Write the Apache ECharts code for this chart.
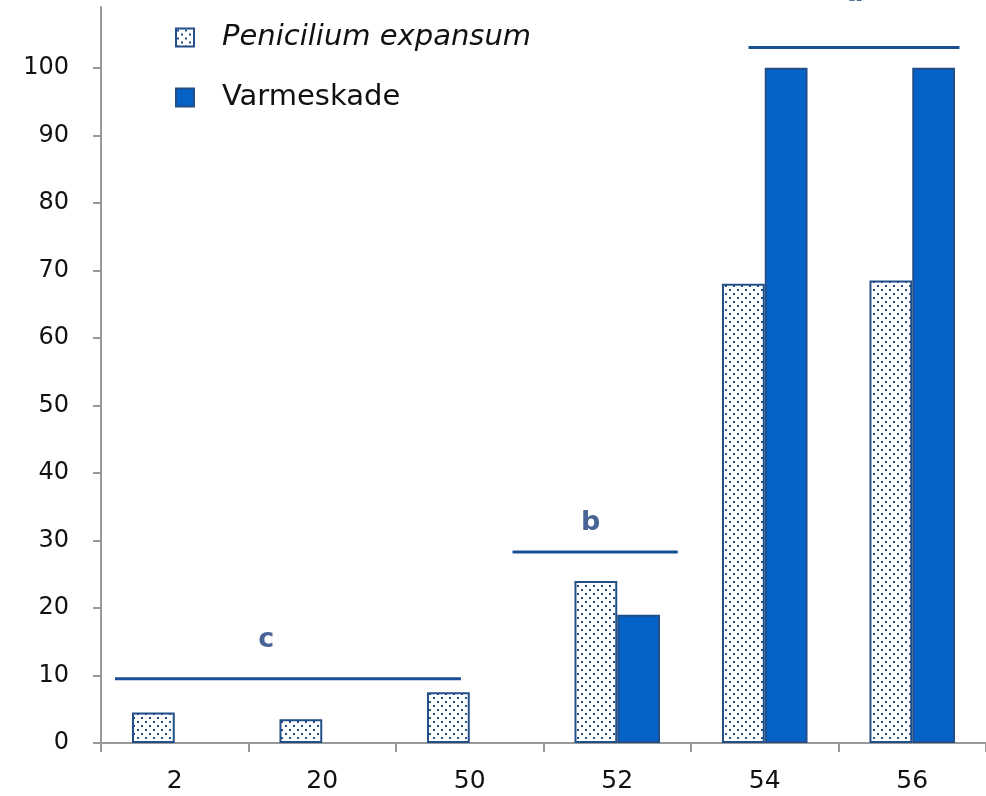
<!DOCTYPE html>
<html><head><meta charset="utf-8">
<script src="https://cdn.jsdelivr.net/npm/echarts@6/dist/echarts.min.js"></script>
<style>html,body{margin:0;padding:0;background:#fff}#c{width:986px;height:796px}</style>
</head><body><div id="c"></div>
<script>
const categories = ['2', '20', '50', '52', '54', '56'];
const penicilium = [4.5, 3.5, 7.5, 24, 68, 68.5];
const varmeskade = [0, 0, 0, 19, 100, 100];
const yTicks = [0, 10, 20, 30, 40, 50, 60, 70, 80, 90, 100];
// significance groups: [xStart, xEnd, y, letter, letterX, letterY] in category units / %
const groupLines = [
  [0.095, 2.44, 9.5, 'c', 1.12, 15.3],
  [2.79, 3.91, 28.3, 'b', 3.32, 32.6],
  [4.39, 5.82, 103, 'a', 5.11, 111.0]
];

const FONT = '"DejaVu Sans", sans-serif';
const DARK = '#234F88';
const BLUE = '#0563C8';

function dotPattern() {
  const c = document.createElement('canvas');
  c.width = 8; c.height = 8;
  const g = c.getContext('2d');
  g.fillStyle = '#ffffff'; g.fillRect(0, 0, 8, 8);
  g.fillStyle = '#1F4E8C';
  g.fillRect(1, 1, 2, 2);
  g.fillRect(5, 5, 2, 2);
  return { image: c, repeat: 'repeat' };
}

const chart = echarts.init(document.getElementById('c'));
const lineSeries = groupLines.map(g => ({
  type: 'line', xAxisIndex: 1, yAxisIndex: 0,
  data: [[g[0], g[2]], [g[1], g[2]]],
  symbol: 'none', silent: true, clip: false,
  lineStyle: { color: '#1B4F93', width: 3 },
  z: 5
}));
const letterSeries = {
  type: 'scatter', xAxisIndex: 1, yAxisIndex: 0,
  symbolSize: 0, silent: true, clip: false,
  data: groupLines.map(g => ({ value: [g[4], g[5]], name: g[3] })),
  label: { show: true, position: 'inside', formatter: p => p.name,
    color: '#1A3F7A', fontSize: 27, fontWeight: 'bold', fontFamily: FONT },
  z: 6
};

chart.setOption({
  animation: false,
  grid: { left: 101, right: -4, top: 7, bottom: 53, containLabel: false },
  legend: {
    orient: 'vertical', left: 170, top: 18,
    icon: 'rect',
    itemWidth: 18, itemHeight: 18, itemGap: 31,
    data: ['Penicilium expansum', 'Varmeskade'],
    formatter: n => n === 'Penicilium expansum' ? '{i|' + n + '}' : '{n|' + n + '}',
    textStyle: { color: '#111', fontSize: 29, fontFamily: FONT, padding: [0, 0, 0, 23],
      rich: { i: { fontStyle: 'italic', fontSize: 29, fontFamily: FONT, color: '#111' },
              n: { fontSize: 29, fontFamily: FONT, color: '#111' } } }
  },
  xAxis: [{
    type: 'category', data: categories,
    axisLine: { lineStyle: { color: '#999', width: 2 } },
    axisTick: { show: true, length: 9, lineStyle: { color: '#999', width: 2 } },
    axisLabel: { color: '#111', fontSize: 25, fontFamily: FONT, margin: 26 }
  }, {
    type: 'value', min: 0, max: 6, show: false
  }],
  yAxis: {
    type: 'value', min: 0, max: 109, interval: 10,
    splitLine: { show: false },
    axisLine: { show: true, lineStyle: { color: '#999', width: 2 } },
    axisTick: { show: true, length: 8, customValues: yTicks, lineStyle: { color: '#999', width: 2 } },
    axisLabel: { color: '#111', fontSize: 24, fontFamily: FONT, margin: 32, customValues: yTicks }
  },
  series: [{
    name: 'Penicilium expansum', type: 'bar', data: penicilium,
    barCategoryGap: '42%', barGap: '0%',
    itemStyle: { color: dotPattern(), borderColor: DARK, borderWidth: 2 }
  }, {
    name: 'Varmeskade', type: 'bar', data: varmeskade.map(v => v === 0 ? null : v),
    barCategoryGap: '42%', barGap: '0%',
    itemStyle: { color: BLUE, borderColor: DARK, borderWidth: 2 }
  }].concat(lineSeries, [letterSeries])
});
</script></body></html>
